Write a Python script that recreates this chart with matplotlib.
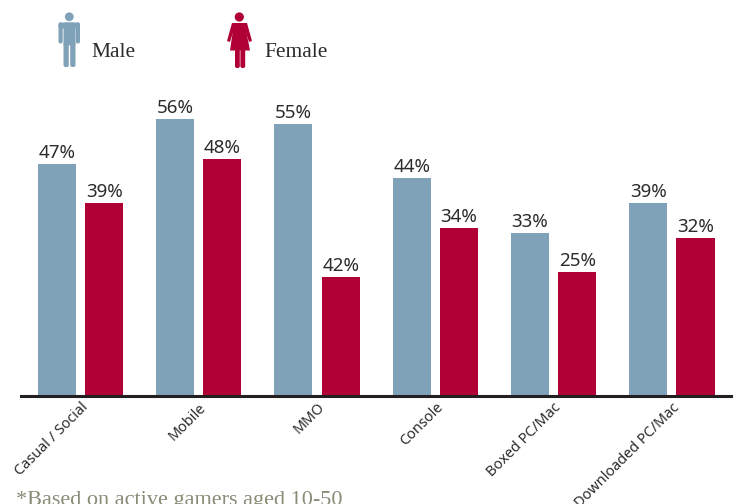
import matplotlib
matplotlib.use("Agg")
import matplotlib.pyplot as plt
from matplotlib.patches import Circle, FancyBboxPatch, Polygon
import numpy as np

categories = ["Casual / Social", "Mobile", "MMO", "Console", "Boxed PC/Mac", "Downloaded PC/Mac"]
male = [47, 56, 55, 44, 33, 39]
female = [39, 48, 42, 34, 25, 32]
# the MMO female bar is drawn much shorter than its 42% label in the original
female_bars = [39, 48, 24, 34, 25, 32]
blue = "#7fa2b9"
red = "#b10035"
W, H = 737, 504

plt.rcParams['font.family'] = ['Noto Sans', 'DejaVu Sans']

fig = plt.figure(figsize=(W / 100, H / 100), dpi=100)
ax = fig.add_axes([21 / W, 1 - 396 / H, 710 / W, 396 / H])
bar_w = 0.322
off = 0.2
x = np.arange(len(categories))
ax.bar(x - off, male, bar_w, color=blue)
ax.bar(x + off, female_bars, bar_w, color=red)
ax.set_xlim(-0.503, 5.5)
ax.set_ylim(0, 396 / 4.945)
for i in range(len(categories)):
    ax.text(x[i] - off, male[i] + 0.4, "%d%%" % male[i], ha="center", va="bottom", fontsize=13.5, color="#2b2b2b")
    ax.text(x[i] + off, female_bars[i] + 0.4, "%d%%" % female[i], ha="center", va="bottom", fontsize=13.5, color="#2b2b2b")

for s in ["top", "left", "right"]:
    ax.spines[s].set_visible(False)
ax.spines["bottom"].set_linewidth(2.2)
ax.spines["bottom"].set_color("#231f20")
ax.set_yticks([])
ax.set_xticks(x)
ax.set_xticklabels(categories, rotation=45, ha="right", rotation_mode="anchor", fontsize=10.4, color="#2b2b2b")
ax.tick_params(axis="x", length=0, pad=3)

# legend icons, in pixels from the top left of the picture
overlay = fig.add_axes([0, 0, 1, 1], facecolor="none")
overlay.set_xlim(0, W)
overlay.set_ylim(H, 0)
overlay.axis("off")

def rbox(x0, y0, w, h, color):
    overlay.add_patch(FancyBboxPatch((x0 + 1, y0 + 1), w - 2, h - 2, boxstyle="round,pad=1,rounding_size=2", color=color, lw=0))

overlay.add_patch(Circle((69.3, 16.8), 4.4, color=blue, lw=0))
rbox(63.5, 22.5, 12, 23, blue)
rbox(58.5, 22.5, 4.2, 21, blue)
rbox(75.8, 22.5, 4.2, 21, blue)
rbox(58.5, 22.5, 21.5, 6, blue)
rbox(63.5, 42, 5.3, 25, blue)
rbox(70.2, 42, 5.3, 25, blue)

overlay.add_patch(Circle((239.3, 17), 4.6, color=red, lw=0))
overlay.add_patch(Polygon([(234, 23), (245, 23), (246, 30), (250, 50.5), (230, 50.5), (233, 30)], color=red, lw=0))
overlay.add_patch(Polygon([(232, 23), (236, 23), (230, 42), (227, 41)], color=red, lw=0))
overlay.add_patch(Polygon([(243, 23), (247, 23), (252, 41), (249, 42)], color=red, lw=0))
rbox(235, 49, 4.8, 19, red)
rbox(240.4, 49, 4.8, 19, red)

fig.text(91 / W, 1 - 52.5 / H, "Male", fontsize=15.5, color="#2b2b2b", family=["Liberation Serif"], va="center", ha="left")
fig.text(264 / W, 1 - 52.5 / H, "Female", fontsize=15.5, color="#2b2b2b", family=["Liberation Serif"], va="center", ha="left")
fig.text(16 / W, 1 - 501 / H, "*Based on active gamers aged 10-50", fontsize=16, color="#8b8b78", family=["Liberation Serif"], va="center", ha="left")

fig.savefig("out.png", dpi=100)
